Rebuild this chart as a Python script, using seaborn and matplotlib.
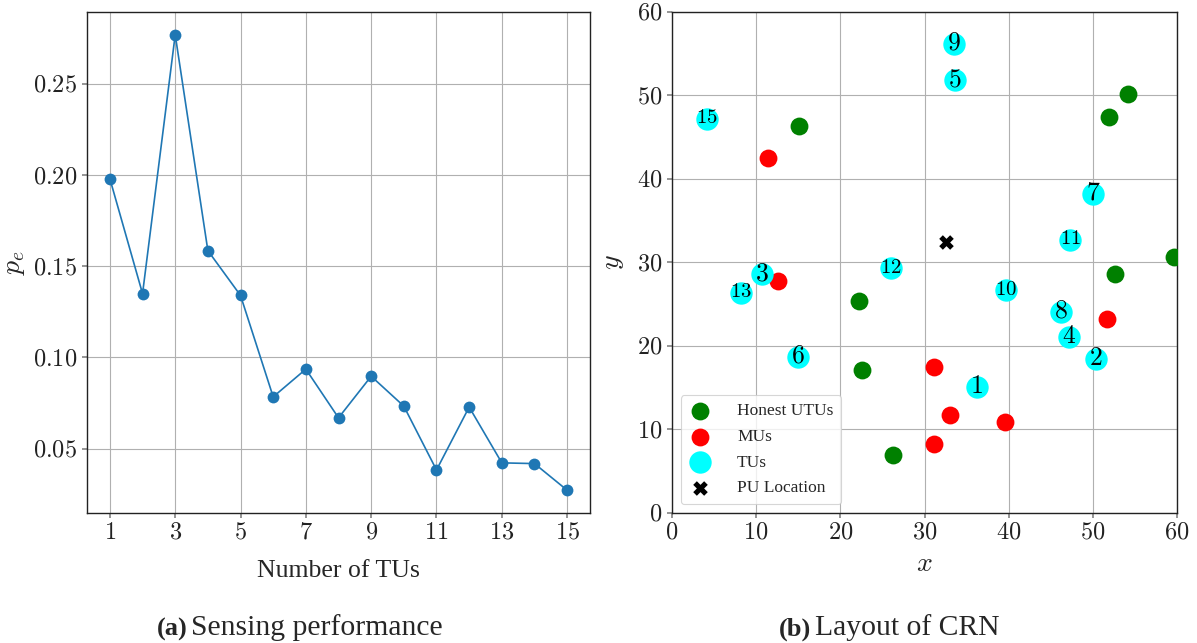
import numpy as np
import pandas as pd
import matplotlib
matplotlib.use("Agg")
import matplotlib.pyplot as plt
import seaborn as sns
from matplotlib.ticker import FuncFormatter

# ---------------- data ----------------
num_tus = [1, 2, 3, 4, 5, 6, 7, 8, 9, 10, 11, 12, 13, 14, 15]
pe = [0.198, 0.135, 0.277, 0.1586, 0.134, 0.0784, 0.0936, 0.0669, 0.0897,
      0.0733, 0.0383, 0.0728, 0.0422, 0.0418, 0.0272]

honest_x = [15.1, 51.9, 54.2, 59.6, 52.6, 22.2, 22.6, 26.2]
honest_y = [46.3, 47.4, 50.2, 30.6, 28.6, 25.4, 17.1, 6.95]

mu_x = [11.4, 12.6, 51.7, 31.1, 33.0, 39.6, 31.1]
mu_y = [42.5, 27.8, 23.2, 17.5, 11.7, 10.9, 8.3]

tu_id = [1, 2, 3, 4, 5, 6, 7, 8, 9, 10, 11, 12, 13, 15]
tu_x = [36.2, 50.4, 10.7, 47.2, 33.6, 15.0, 50.0, 46.2, 33.5, 39.7, 47.3, 26.05, 8.2, 4.2]
tu_y = [15.1, 18.4, 28.6, 21.1, 51.8, 18.7, 38.25, 24.1, 56.2, 26.7, 32.7, 29.3, 26.4, 47.2]

pu_x = [32.5]
pu_y = [32.4]

xticks_a = [1, 3, 5, 7, 9, 11, 13, 15]
yticks_a = [0.05, 0.10, 0.15, 0.20, 0.25]
ticks_b = [0, 10, 20, 30, 40, 50, 60]

# ---------------- style ----------------
sns.set_theme(style="whitegrid")
plt.rcParams.update({
    "font.family": ["Liberation Serif", "DejaVu Serif"],
    "mathtext.fontset": "cm",
    "axes.edgecolor": "#222222",
    "axes.linewidth": 1.0,
    "grid.color": "#b0b0b0",
    "grid.linewidth": 0.8,
    "xtick.bottom": True,
    "ytick.left": True,
    "xtick.color": "#888888",
    "ytick.color": "#888888",
    "xtick.major.size": 3.5,
    "ytick.major.size": 3.5,
    "xtick.labelcolor": "#222222",
    "ytick.labelcolor": "#222222",
})

fig = plt.figure(figsize=(11.97, 6.43), dpi=100)
ax1 = fig.add_axes([0.0727, 0.2022, 0.4202, 0.7792])
ax2 = fig.add_axes([0.5614, 0.2022, 0.4219, 0.7792])

# ---------------- panel (a) ----------------
df_a = pd.DataFrame({"n": num_tus, "pe": pe})
sns.lineplot(data=df_a, x="n", y="pe", ax=ax1, color="#1f77b4", marker="o",
             markersize=8.5, markeredgewidth=0, linewidth=1.2)
ax1.set_xticks(xticks_a)
ax1.set_yticks(yticks_a)
ax1.xaxis.set_major_formatter(FuncFormatter(lambda v, p: f"${int(v)}$"))
ax1.yaxis.set_major_formatter(FuncFormatter(lambda v, p: f"${v:.2f}$"))
ax1.tick_params(labelsize=17.5)
ax1.set_xlabel("Number of TUs", fontsize=18.5, labelpad=12)
ax1.set_ylabel("$p_e$", fontsize=20)
ax1.margins(0.05)

# ---------------- panel (b) ----------------
df_h = pd.DataFrame({"x": honest_x, "y": honest_y})
df_m = pd.DataFrame({"x": mu_x, "y": mu_y})
df_t = pd.DataFrame({"x": tu_x, "y": tu_y, "id": tu_id})
df_p = pd.DataFrame({"x": pu_x, "y": pu_y})

sns.scatterplot(data=df_h, x="x", y="y", ax=ax2, color="green", s=165,
                linewidth=0, label="Honest UTUs", zorder=3)
sns.scatterplot(data=df_m, x="x", y="y", ax=ax2, color="red", s=165,
                linewidth=0, label="MUs", zorder=3)
sns.scatterplot(data=df_t, x="x", y="y", ax=ax2, color="cyan", s=260,
                linewidth=0, label="TUs", zorder=3)
sns.scatterplot(data=df_p, x="x", y="y", ax=ax2, color="black", marker="X",
                s=110, linewidth=0, label="PU Location", zorder=3)

for i, xx, yy in zip(df_t["id"], df_t["x"], df_t["y"]):
    fs = 18.5 if i < 10 else 15
    ax2.text(xx, yy, rf"$\mathbf{{{i}}}$", ha="center", va="center",
             fontsize=fs, color="black", zorder=4)

ax2.set_xlim(0, 60)
ax2.set_ylim(0, 60)
ax2.set_xticks(ticks_b)
ax2.set_yticks(ticks_b)
ax2.xaxis.set_major_formatter(FuncFormatter(lambda v, p: f"${int(v)}$"))
ax2.yaxis.set_major_formatter(FuncFormatter(lambda v, p: f"${int(v)}$"))
ax2.tick_params(labelsize=17.5)
ax2.set_xlabel("$x$", fontsize=20, labelpad=6)
ax2.set_ylabel("$y$", fontsize=20, labelpad=8)
for ax in (ax1, ax2):
    for sp in ax.spines.values():
        sp.set_visible(True)
        sp.set_color("#222222")

leg = ax2.legend(loc="lower left", fontsize=12.5, frameon=True,
                 framealpha=0.8, edgecolor="#cccccc", fancybox=True,
                 handlelength=1.3, handletextpad=1.5, labelspacing=0.55,
                 borderpad=0.45)
leg.get_frame().set_linewidth(0.8)

# ---------------- captions ----------------
fig.text(0.131, 0.003, "(a)", fontsize=19, fontweight="bold", ha="left", va="bottom")
fig.text(0.1595, 0.003, "Sensing performance", fontsize=21.3, ha="left", va="bottom")
fig.text(0.651, 0.003, "(b)", fontsize=19, fontweight="bold", ha="left", va="bottom")
fig.text(0.681, 0.003, "Layout of CRN", fontsize=21.3, ha="left", va="bottom")

fig.savefig("out.png", dpi=100)
